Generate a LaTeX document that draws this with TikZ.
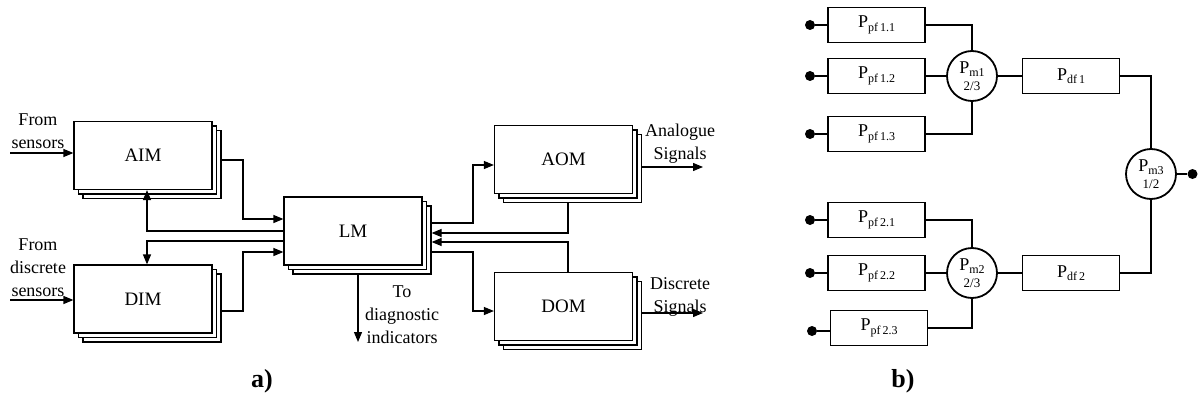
\documentclass[tikz,border=0pt]{standalone}
\usepackage{fontspec}
\setmainfont{Liberation Serif}
\usetikzlibrary{arrows.meta}
\newcommand\Psb[1]{P\raisebox{-3.5pt}{\fontsize{12}{12}\selectfont #1}}
\newcommand\stackbox[4]{%
  \node[box] (#1c) at (#2+9,#3+9) {};
  \node[box] (#1b) at (#2+4.5,#3+4.5) {};
  \node[box] (#1) at (#2,#3) {#4};}
\begin{document}
\begin{tikzpicture}[x=1pt,y=-1pt,
  box/.style={draw,line width=1.2pt,fill=white,minimum width=138pt,minimum height=68pt,inner sep=0pt,font=\fontsize{19}{19}\selectfont},
  arr/.style={line width=1.2pt,-{Triangle[length=10pt,width=8pt]}},
  ln/.style={line width=1.8pt},
  lbl/.style={align=center,font=\fontsize{18}{23}\selectfont,inner sep=0pt},
  pbox/.style={draw,line width=1.8pt,minimum width=97pt,minimum height=35pt,inner sep=0pt,font=\fontsize{18}{18}\selectfont},
  mcirc/.style={draw,circle,line width=1.8pt,fill=white,minimum size=50pt,inner sep=0pt,align=center,font=\fontsize{18}{18}\selectfont},
  dot/.style={circle,fill=black,minimum size=10pt,inner sep=0pt},
  figlabel/.style={font=\fontsize{26}{26}\selectfont\bfseries,inner sep=0pt}
]
\useasboundingbox (0,0) rectangle (1198,401);

% ---------- part a ----------
\stackbox{aim}{143}{155.5}{AIM}
\stackbox{dim}{143}{299}{DIM}
\stackbox{lm}{353}{231}{LM}
\stackbox{aom}{563.5}{159.5}{AOM}
\stackbox{dom}{563.5}{306.5}{DOM}

\node[lbl] (tfs) at (38,131) {From\\sensors};
\node[lbl] (tfd) at (38,268) {From\\discrete\\sensors};
\node[lbl] (tas) at (680,144) {Analogue\\Signals};
\node[lbl] (tds) at (680,297) {Discrete\\Signals};
\node[lbl] (tdi) at (402,315) {To\\diagnostic\\indicators};

\coordinate (fsA) at (10,153);
\coordinate (fsD) at (10,300);
\draw[arr] (fsA) -- (fsA -| aim.west);
\draw[arr] (fsD) -- (fsD -| dim.west);

\coordinate (j1) at (243,160); \coordinate (j2) at (243,219);
\draw[arr] (j1 -| aimc.east) -- (j1) -- (j2) -- (j2 -| lm.west);
\coordinate (j3) at (147,231);
\draw[arr] (j3 -| lm.west) -- (j3) -- (j3 |- aim.south);
\coordinate (j4) at (147,241);
\draw[arr] (j4 -| lm.west) -- (j4) -- (j4 |- dim.north);
\coordinate (j5) at (243,311); \coordinate (j6) at (243,252);
\draw[arr] (j5 -| dimc.east) -- (j5) -- (j6) -- (j6 -| lm.west);
\coordinate (j7) at (473,223); \coordinate (j8) at (473,165);
\draw[arr] (j7 -| lmc.east) -- (j7) -- (j8) -- (j8 -| aom.west);
\coordinate (j9) at (568,233);
\draw[arr] (j9 |- aomc.south) -- (j9) -- (j9 -| lmc.east);
\coordinate (j10) at (568,242);
\draw[arr] (j10 |- dom.north) -- (j10) -- (j10 -| lmc.east);
\coordinate (j11) at (473,252); \coordinate (j12) at (473,311);
\draw[arr] (j11 -| lmc.east) -- (j11) -- (j12) -- (j12 -| dom.west);
\coordinate (j13) at (358,342);
\draw[arr] (j13 |- lmc.south) -- (j13);
\coordinate (j14) at (703,167);
\draw[arr] (j14 -| aomc.east) -- (j14);
\coordinate (j15) at (703,313);
\draw[arr] (j15 -| domc.east) -- (j15);

\node[figlabel] (la) at (262,381) {a)};

% ---------- part b ----------
\node[pbox] (p11) at (876.5,25) {\Psb{pf\,1.1}};
\node[pbox] (p12) at (876.5,76) {\Psb{pf\,1.2}};
\node[pbox] (p13) at (876.5,134) {\Psb{pf\,1.3}};
\node[pbox] (p21) at (876.5,220) {\Psb{pf\,2.1}};
\node[pbox] (p22) at (876.5,273) {\Psb{pf\,2.2}};
\node[pbox] (p23) at (879,328) {\Psb{pf\,2.3}};
\node[pbox] (pd1) at (1071,76) {\Psb{df\,1}};
\node[pbox] (pd2) at (1071,273) {\Psb{df\,2}};

\node[mcirc] (m1) at (972,76) {\Psb{m1}\\[-1pt]{\fontsize{13}{13}\selectfont 2/3}};
\node[mcirc] (m2) at (972,273) {\Psb{m2}\\[-1pt]{\fontsize{13}{13}\selectfont 2/3}};
\node[mcirc] (m3) at (1151,174) {\Psb{m3}\\[-1pt]{\fontsize{13}{13}\selectfont 1/2}};

\node[dot] (d11) at (810,25) {};
\node[dot] (d12) at (810,76) {};
\node[dot] (d13) at (810,134) {};
\node[dot] (d21) at (810,220) {};
\node[dot] (d22) at (810,273) {};
\node[dot] (d23) at (812,331) {};
\node[dot] (d3) at (1192.5,174) {};

\draw[ln] (d11) -- (p11);
\draw[ln] (d12) -- (p12);
\draw[ln] (d13) -- (d13 -| p13.west);
\draw[ln] (d21) -- (p21);
\draw[ln] (d22) -- (p22);
\draw[ln] (d23) -- (d23 -| p23.west);

\draw[ln] (p11.east) -| (m1.north);
\draw[ln] (p12) -- (m1);
\draw[ln] (p13.east) -| (m1.south);
\draw[ln] (p21.east) -| (m2.north);
\draw[ln] (p22) -- (m2);
\draw[ln] (p23.east) -| (m2.south);
\draw[ln] (m1) -- (pd1);
\draw[ln] (m2) -- (pd2);
\draw[ln] (pd1.east) -| (m3.north);
\draw[ln] (pd2.east) -| (m3.south);
\draw[ln] (m3) -- (d3);

\node[figlabel] (lb) at (903,381) {b)};
\end{tikzpicture}
\end{document}
